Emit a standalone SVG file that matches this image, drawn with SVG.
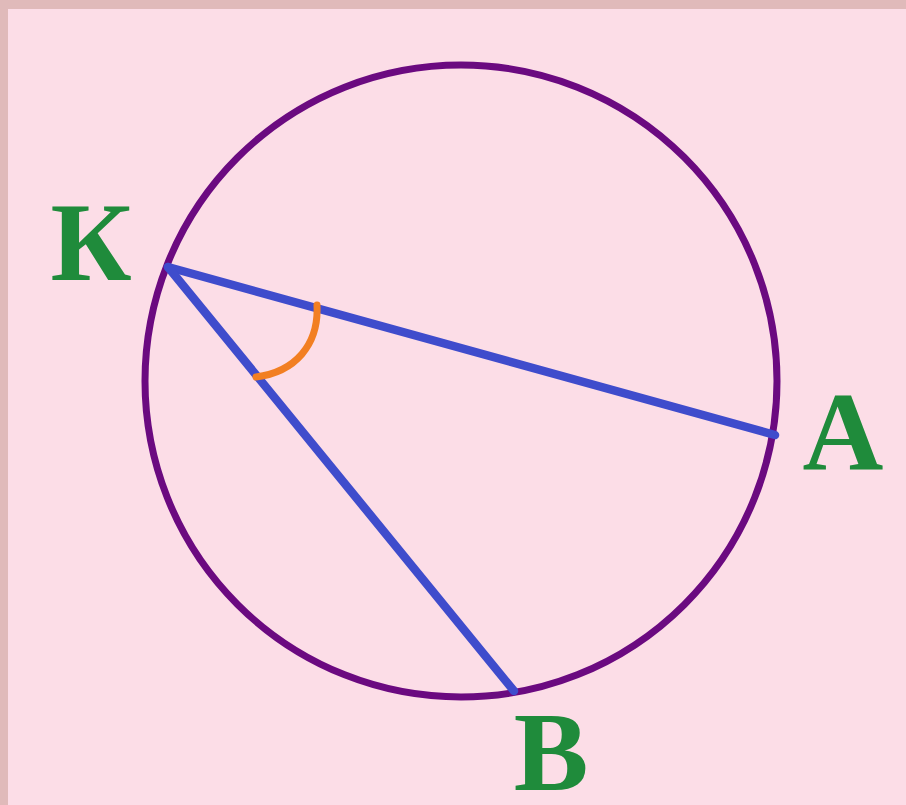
<svg xmlns="http://www.w3.org/2000/svg" width="906" height="805" viewBox="0 0 906 805">
<style>
.lbl{font-family:"Liberation Serif","Times New Roman",serif;font-weight:bold;font-size:112px;fill:#1f8b3b;text-anchor:middle}
.chord{stroke:#3f4ccc;stroke-width:8.5;stroke-linecap:round;fill:none}
</style>
<rect x="0" y="0" width="906" height="805" fill="#e0baba"/>
<rect x="8" y="9" width="898" height="796" fill="#fcdde7"/>
<g id="circle">
<circle cx="461" cy="381" r="316" fill="none" stroke="#6b0a80" stroke-width="7"/>
</g>
<g id="connectors">
<line class="chord" x1="168" y1="267" x2="775" y2="435"/>
<line class="chord" x1="168" y1="267" x2="514" y2="691"/>
</g>
<g id="angle">
<path d="M317,305 C319,345 295,372 256,377" fill="none" stroke="#f27f22" stroke-width="7" stroke-linecap="round"/>
</g>
<g id="K"><text class="lbl" x="91" y="280">К</text></g>
<g id="A"><text class="lbl" x="843" y="470">A</text></g>
<g id="B"><text class="lbl" x="551" y="790">B</text></g>
</svg>
